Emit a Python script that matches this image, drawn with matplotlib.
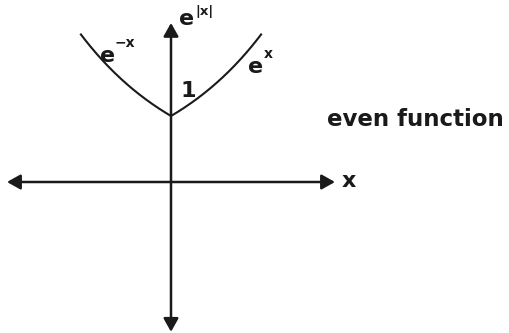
import numpy as np
import matplotlib
matplotlib.use("Agg")
import matplotlib.pyplot as plt

INK = "#1a1a1a"

# graph of e^|x| drawn between these x bounds
x_range = [-0.81, 0.81]
x_axis_extent = [-1.464, 1.464]
y_axis_extent = [-2.27, 2.41]

# labels: (text, x, y, size)
base_labels = [
    ("e", 0.071, 2.379, 16),
    ("e", -0.634, 1.818, 16),
    ("e", 0.6875, 1.652, 16),
    ("1", 0.085, 1.288, 16),
    ("x", 1.52, -0.076, 16),
    ("even function", 1.393, 0.848, 16.5),
]
sup_labels = [
    ("|x|", 0.215, 2.53, 9.5),
    ("\u2212x", -0.505, 2.045, 10),
    ("x", 0.83, 1.879, 10),
]


def draw_axis(ax, start, end):
    ax.annotate(
        "",
        xy=end,
        xytext=start,
        arrowprops=dict(
            arrowstyle="<|-|>,head_length=0.8,head_width=0.45",
            mutation_scale=10,
            shrinkA=0,
            shrinkB=0,
            lw=1.8,
            color=INK,
        ),
    )


fig = plt.figure(figsize=(5.09, 3.33), dpi=100)
ax = fig.add_axes([0, 0, 1, 1])
ax.set_xlim(-171 / 112, 338 / 112)
ax.set_ylim(-151 / 66, 182 / 66)
ax.axis("off")

draw_axis(ax, (x_axis_extent[0], 0), (x_axis_extent[1], 0))
draw_axis(ax, (0, y_axis_extent[0]), (0, y_axis_extent[1]))

xs = np.linspace(x_range[0], x_range[1], 300)
ax.plot(xs, np.exp(np.abs(xs)), color=INK, lw=1.5, solid_capstyle="butt")

for text, x, y, size in base_labels + sup_labels:
    ax.text(x, y, text, fontsize=size, fontweight="bold", color=INK,
            ha="left", va="baseline", family="DejaVu Sans")

fig.savefig("out.png", dpi=100)
